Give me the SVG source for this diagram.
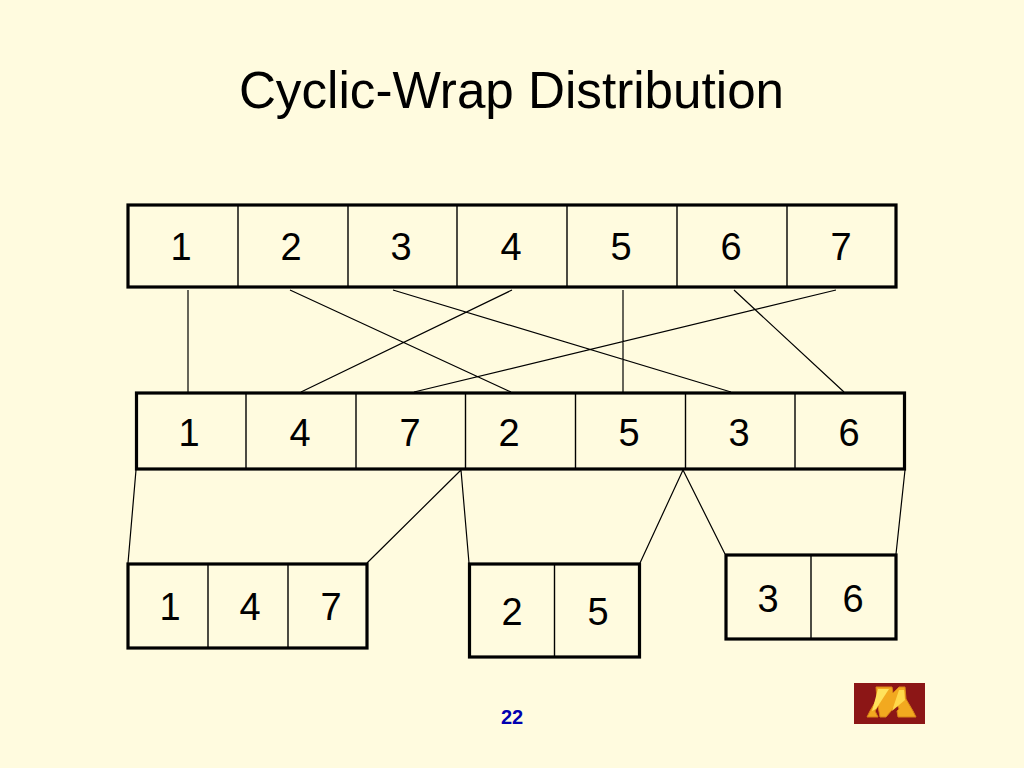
<svg xmlns="http://www.w3.org/2000/svg" width="1024" height="768" viewBox="0 0 1024 768">
<style>
.box{fill:none;stroke:#000;stroke-width:3.2}
.div{stroke:#000;stroke-width:1.4}
.c{stroke:#000;stroke-width:1.2;fill:none}
.n{font-family:"Liberation Sans",Arial,sans-serif;font-size:38px;fill:#000;text-anchor:middle}
</style>
<rect width="1024" height="768" fill="#fffbdf"/>
<text id="title" x="511.500" y="108" font-family="Liberation Sans,Arial,sans-serif" font-size="51.2" text-anchor="middle" fill="#000">Cyclic-Wrap Distribution</text>
<g id="connectors">
<path class="c" d="M188 290V392M290 290L511 392M393 290L731 392M512 290L301 392M623 290V392M836 290L414 392M734 290L844 392"/>
<path class="c" d="M136 470L128 563M461 470L367 563M461 470L469 563M683 470L640 563M683 470L725 554M905 470L896 554"/>
</g>
<g id="row1">
<rect class="box" x="128" y="205" width="768" height="82"/>
<path class="div" d="M238 205V287M348 205V287M457 205V287M567 205V287M677 205V287M787 205V287"/>
<text class="n" x="181" y="260">1</text><text class="n" x="291" y="260">2</text><text class="n" x="401" y="260">3</text><text class="n" x="511" y="260">4</text><text class="n" x="621" y="260">5</text><text class="n" x="731" y="260">6</text><text class="n" x="841" y="260">7</text>
</g>
<g id="row2">
<rect class="box" x="136.500" y="393" width="768" height="76"/>
<path class="div" d="M246 393V469M356 393V469M465.500 393V469M575.500 393V469M685.500 393V469M795 393V469"/>
<text class="n" x="189" y="446">1</text><text class="n" x="300" y="446">4</text><text class="n" x="410" y="446">7</text><text class="n" x="509" y="446">2</text><text class="n" x="629" y="446">5</text><text class="n" x="739" y="446">3</text><text class="n" x="849" y="446">6</text>
</g>
<g id="group-a">
<rect class="box" x="128" y="564" width="239" height="84"/>
<path class="div" d="M208 564V648M288 564V648"/>
<text class="n" x="170" y="620">1</text><text class="n" x="250" y="620">4</text><text class="n" x="331" y="620">7</text>
</g>
<g id="group-b">
<rect class="box" x="469.500" y="564" width="170" height="93"/>
<path class="div" d="M554.500 564V657"/>
<text class="n" x="512" y="625">2</text><text class="n" x="598" y="625">5</text>
</g>
<g id="group-c">
<rect class="box" x="726" y="555" width="170" height="84"/>
<path class="div" d="M811 555V639"/>
<text class="n" x="768" y="612">3</text><text class="n" x="853" y="612">6</text>
</g>
<text id="page" x="512" y="724" font-family="Liberation Sans,Arial,sans-serif" font-size="20" font-weight="bold" text-anchor="middle" fill="#0000b0">22</text>
<g id="logo">
<rect x="854" y="683" width="71" height="41" fill="#8c1616"/>
<path d="M867 717L870 711L877 699L876 687H892L893 693L899 687H905L906 699L913 711L916 717H898L897 711L899 709L897 704L886 717H880L878 706L875 711L878 717Z" fill="#f2a91f" stroke="#d98418" stroke-width="1"/>
<path d="M878 689H889L876 709L872 711Z" fill="#ffe25c"/>
<path d="M899 690H904L905 700L892 711Z" fill="#ffd84a"/>
</g>
</svg>
